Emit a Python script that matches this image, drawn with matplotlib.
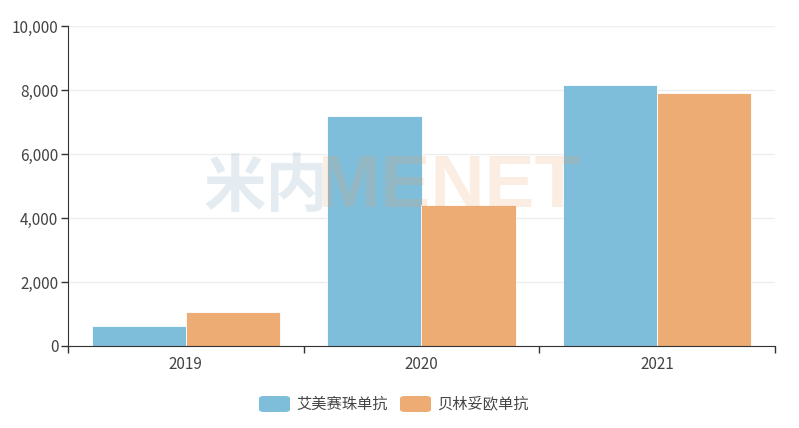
import numpy as np
import matplotlib
matplotlib.use("Agg")
import matplotlib.pyplot as plt
from matplotlib.patches import FancyBboxPatch
from matplotlib.ticker import FuncFormatter

plt.rcParams['font.family'] = ['Noto Sans CJK SC', 'DejaVu Sans']

years = ["2019", "2020", "2021"]
series_names = ["艾美赛珠单抗", "贝林妥欧单抗"]
emicizumab = [620, 7190, 8170]
blinatumomab = [1050, 4400, 7910]
colors = ["#7fbedb", "#edac74"]

fig = plt.figure(figsize=(7.99, 4.28), dpi=100)
ax = fig.add_axes([68 / 799, 1 - 346 / 428, 707 / 799, 320 / 428])

x = np.arange(len(years))
w = 0.4
ax.bar(x - w / 2, emicizumab, w, color=colors[0], edgecolor="white", linewidth=0.6, zorder=2)
ax.bar(x + w / 2, blinatumomab, w, color=colors[1], edgecolor="white", linewidth=0.6, zorder=2)

ax.set_xlim(-0.5, len(years) - 0.5)
ax.set_ylim(0, 10000)
ax.set_yticks(np.arange(0, 10001, 2000))
ax.yaxis.set_major_formatter(FuncFormatter(lambda v, p: f"{int(v):,}"))
ax.set_xticks(x)
ax.set_xticklabels(years)
ax.set_xticks(np.arange(-0.5, len(years), 1), minor=True)
ax.tick_params(axis="x", which="major", length=0, pad=7, labelsize=11, labelcolor="#444444")
ax.tick_params(axis="x", which="minor", length=5, color="#333333", width=1)
ax.tick_params(axis="y", length=5, color="#333333", width=1, pad=2, labelsize=11, labelcolor="#444444")

ax.grid(axis="y", color="#eeeeee", linewidth=1, zorder=0)
for s in ["top", "right"]:
    ax.spines[s].set_visible(False)
ax.spines["left"].set_color("#333333")
ax.spines["bottom"].set_color("#333333")

# watermark
fig.text(204 / 799, 1 - 188 / 428, "米内", fontsize=45, fontweight="bold", color="#5b8ea8",
         alpha=0.16, va="center", ha="left", zorder=10)
fig.text(318 / 799, 1 - 188 / 428, "MENET", fontsize=54, fontweight="bold", color="#f0a060",
         alpha=0.18, va="center", ha="left", family="Liberation Sans", zorder=10)

# legend
legend_x = [259, 400]
for i, name in enumerate(series_names):
    box = FancyBboxPatch((legend_x[i] / 799, 1 - 412 / 428), 31 / 799, 16 / 428,
                         boxstyle="round,pad=0,rounding_size=0.006", transform=fig.transFigure,
                         facecolor=colors[i], edgecolor="none")
    fig.patches.append(box)
    fig.text((legend_x[i] + 37) / 799, 1 - 404 / 428, name, fontsize=11, color="#444444",
             va="center", ha="left")

fig.savefig("out.png", dpi=100)
